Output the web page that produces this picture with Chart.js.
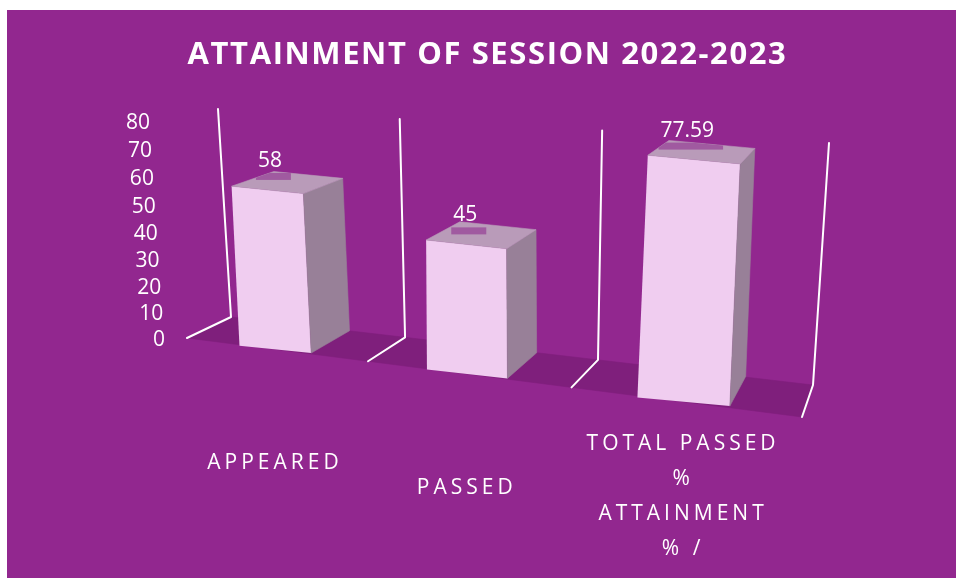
<!DOCTYPE html>
<html>
<head>
<meta charset="utf-8">
<script src="https://cdn.jsdelivr.net/npm/chart.js@4.4.1/dist/chart.umd.min.js"></script>
<style>
  html, body { margin: 0; padding: 0; background: #ffffff; }
  #wrap { position: absolute; left: 0; top: 0; width: 956px; height: 578px; }
</style>
</head>
<body>
<div id="wrap"><canvas id="chart"></canvas></div>
<script>
// ---------------- data ----------------
const categories = [['APPEARED'], ['PASSED'], ['TOTAL PASSED', '%', 'ATTAINMENT', '% /']];
const values = [58, 45, 77.59];
const valueLabels = ['58', '45', '77.59'];
const yMin = 0, yMax = 80, yStep = 10;
const titleText = 'ATTAINMENT OF SESSION 2022-2023';

// ---------------- style / layout ----------------
const COL = {
  page: '#ffffff', bg: '#92278F', floor: '#7F1F7C', front: '#F0CDF0',
  side: '#988098', top: '#B99BB9', patch: '#A05AA0', text: '#ffffff', wall: '#ffffff'
};
const FONT = '"Open Sans", "DejaVu Sans", sans-serif';
// perspective planes: corners for (s,t) = (0,0),(1,0),(1,1),(0,1)
const FRONT_QUAD = [[187, 338], [802, 417], [820, 159], [172, 121]];
const BACK_QUAD  = [[231, 317], [813, 385], [829, 143], [218, 109]];
const BAR_DEPTH = 0.97;
const Y_LABEL_GAP = 22, Y_LABEL_DY = 2;
const X_LABEL_DROP = 114, X_LABEL_MAX_BOTTOM = 567;

function squareToQuad(q) {
  const [x0, y0] = q[0], [x1, y1] = q[1], [x2, y2] = q[2], [x3, y3] = q[3];
  const sx = x0 - x1 + x2 - x3, sy = y0 - y1 + y2 - y3;
  const dx1 = x1 - x2, dx2 = x3 - x2, dy1 = y1 - y2, dy2 = y3 - y2;
  const den = dx1 * dy2 - dx2 * dy1;
  const g = (sx * dy2 - dx2 * sy) / den, h = (dx1 * sy - sx * dy1) / den;
  const a = x1 - x0 + g * x1, b = x3 - x0 + h * x3, c = x0;
  const d = y1 - y0 + g * y1, e = y3 - y0 + h * y3, f = y0;
  return (s, t) => { const w = g * s + h * t + 1; return [(a * s + b * t + c) / w, (d * s + e * t + f) / w]; };
}
const Hf = squareToQuad(FRONT_QUAD);
const Hb = squareToQuad(BACK_QUAD);

function toST(chart, px, py) {
  const xs = chart.scales.x, ys = chart.scales.y;
  return [(px - xs.left) / xs.width, (ys.getValueForPixel(py) - ys.min) / (ys.max - ys.min)];
}

function barGeom(chart, el) {
  const { x, y, base, width } = el.getProps(['x', 'y', 'base', 'width'], true);
  const L = x - width / 2, R = x + width / 2;
  const sBL = toST(chart, L, base), sBR = toST(chart, R, base), sTR = toST(chart, R, y), sTL = toST(chart, L, y);
  const BL = Hf(...sBL), BR = Hf(...sBR), TR = Hf(...sTR), TL = Hf(...sTL);
  const w = R - L, hh = (y - base) || -1;
  const ex = [((BR[0] - BL[0]) + (TR[0] - TL[0])) / 2 / w, ((BR[1] - BL[1]) + (TR[1] - TL[1])) / 2 / w];
  const ey = [((TL[0] - BL[0]) + (TR[0] - BR[0])) / 2 / hh, ((TL[1] - BL[1]) + (TR[1] - BR[1])) / 2 / hh];
  const C = [(BL[0] + BR[0] + TR[0] + TL[0]) / 4, (BL[1] + BR[1] + TR[1] + TL[1]) / 4];
  const cx = x, cy = (y + base) / 2;
  const m = [ex[0], ex[1], ey[0], ey[1], C[0] - ex[0] * cx - ey[0] * cy, C[1] - ex[1] * cx - ey[1] * cy];
  const A = (px, py) => [m[0] * px + m[2] * py + m[4], m[1] * px + m[3] * py + m[5]];
  const deep = (sv, pt) => { const f = Hf(...sv), b = Hb(...sv); return [pt[0] + BAR_DEPTH * (b[0] - f[0]), pt[1] + BAR_DEPTH * (b[1] - f[1])]; };
  const fBL = A(L, base), fBR = A(R, base), fTR = A(R, y), fTL = A(L, y);
  return { m, fBL, fBR, fTR, fTL, bBR: deep(sBR, fBR), bTR: deep(sTR, fTR), bTL: deep(sTL, fTL) };
}

function poly(ctx, pts, fill) {
  ctx.beginPath();
  pts.forEach((p, i) => i ? ctx.lineTo(p[0], p[1]) : ctx.moveTo(p[0], p[1]));
  ctx.closePath();
  ctx.fillStyle = fill; ctx.fill();
  ctx.strokeStyle = fill; ctx.lineWidth = 0.6; ctx.stroke();
}

function wrapScale(scale, adjust, spacing) {
  if (!scale || scale._p3d) return;
  scale._p3d = true;
  const origCompute = scale._computeLabelItems;
  scale._computeLabelItems = function (ca) {
    const items = origCompute.call(this, ca);
    items.forEach(adjust);
    return items;
  };
  const origDraw = scale.drawLabels;
  scale.drawLabels = function (ca) {
    const ctx = this.ctx; ctx.save(); ctx.letterSpacing = spacing; origDraw.call(this, ca); ctx.restore();
  };
}

const perspective3d = {
  id: 'perspective3d',
  beforeDraw(chart) {
    const ctx = chart.ctx;
    ctx.save();
    ctx.fillStyle = COL.page; ctx.fillRect(0, 0, chart.width, chart.height);
    ctx.fillStyle = COL.bg; ctx.fillRect(7, 10, chart.width - 7, chart.height - 10);
    ctx.restore();
  },
  afterLayout(chart) {
    const xs = chart.scales.x, ys = chart.scales.y;
    wrapScale(ys, (it) => {
      const tr = it.options.translation;
      const t = (ys.getValueForPixel(tr[1]) - ys.min) / (ys.max - ys.min);
      const p = Hf(0, t);
      it.options.translation = [p[0] - Y_LABEL_GAP, p[1] + Y_LABEL_DY];
    }, '0px');
    wrapScale(xs, (it) => {
      const tr = it.options.translation;
      const n = Array.isArray(it.label) ? it.label.length : 1;
      const lh = it.font.lineHeight;
      const p = Hf((tr[0] - xs.left) / xs.width, 0);
      const yc = Math.min(p[1] + X_LABEL_DROP, X_LABEL_MAX_BOTTOM - n * lh / 2);
      it.options.translation = [p[0], yc - n * lh / 2];
    }, '4px');
    const tb = chart.titleBlock;
    if (tb && !tb._p3d) {
      tb._p3d = true;
      const od = tb.draw;
      tb.draw = function (...args) { const ctx = chart.ctx; ctx.save(); ctx.letterSpacing = '1.6px'; od.apply(this, args); ctx.restore(); };
    }
  },
  beforeDatasetsDraw(chart) {
    const ctx = chart.ctx;
    const n = chart.data.labels.length;
    ctx.save();
    // floor
    poly(ctx, [Hf(0, 0), Hf(1, 0), Hb(1, 0), Hb(0, 0)], COL.floor);
    // wall / floor division lines at category boundaries
    ctx.strokeStyle = COL.wall; ctx.lineWidth = 2; ctx.lineJoin = 'round'; ctx.lineCap = 'round';
    for (let i = 0; i <= n; i++) {
      const s = i / n;
      const a = Hf(s, 0), b = Hb(s, 0), c = Hb(s, 1);
      ctx.beginPath(); ctx.moveTo(a[0], a[1]); ctx.lineTo(b[0], b[1]); ctx.lineTo(c[0], c[1]); ctx.stroke();
    }
    ctx.restore();
    // put the library's own bar rectangles onto the front plane
    chart.getDatasetMeta(0).data.forEach((el) => {
      if (el._p3d) return;
      el._p3d = true;
      const orig = el.draw;
      el.draw = function (c, area) {
        const g = barGeom(chart, this);
        c.save(); c.transform(...g.m); orig.call(this, c, area); c.restore();
      };
    });
  },
  afterDatasetsDraw(chart) {
    const ctx = chart.ctx;
    ctx.save();
    chart.getDatasetMeta(0).data.forEach((el, i) => {
      const g = barGeom(chart, el);
      poly(ctx, [g.fTR, g.fBR, g.bBR, g.bTR], COL.side);
      const topFace = [g.fTL, g.fTR, g.bTR, g.bTL];
      poly(ctx, topFace, COL.top);
      // label
      const ftc = [(g.fTL[0] + g.fTR[0]) / 2, (g.fTL[1] + g.fTR[1]) / 2];
      const fbc = [(g.fBL[0] + g.fBR[0]) / 2, (g.fBL[1] + g.fBR[1]) / 2];
      const lx = (ftc[0] + fbc[0]) / 2 - 1.5, ly = ftc[1] - 29;
      ctx.font = '21px ' + FONT;
      const txt = valueLabels[i];
      const tw = ctx.measureText(txt).width;
      // small darker patch on the top face under the label
      ctx.save();
      ctx.beginPath(); topFace.forEach((p, k) => k ? ctx.lineTo(p[0], p[1]) : ctx.moveTo(p[0], p[1])); ctx.closePath(); ctx.clip();
      ctx.fillStyle = COL.patch;
      ctx.fillRect(lx - tw / 2 - 2, ly + 12, tw + 11, 7);
      ctx.restore();
      ctx.fillStyle = COL.text; ctx.textAlign = 'center'; ctx.textBaseline = 'middle';
      ctx.fillText(txt, lx, ly);
    });
    ctx.restore();
  }
};

Chart.defaults.font.family = FONT;

new Chart(document.getElementById('chart'), {
  type: 'bar',
  data: {
    labels: categories,
    datasets: [{
      data: values,
      backgroundColor: COL.front,
      borderWidth: 0,
      barPercentage: 0.39,
      categoryPercentage: 1.0,
      clip: false
    }]
  },
  options: {
    responsive: true,
    maintainAspectRatio: false,
    animation: false,
    events: [],
    devicePixelRatio: 1,
    layout: { padding: { left: 19, top: 10, right: 0, bottom: 0 } },
    plugins: {
      legend: { display: false },
      tooltip: { enabled: false },
      title: {
        display: true, text: titleText, color: COL.text,
        font: { family: FONT, size: 31, weight: 'bold' },
        padding: { top: 27, bottom: 10 }
      }
    },
    scales: {
      x: {
        grid: { display: false }, border: { display: false },
        afterFit: (s) => { s.height = 165; },
        ticks: { color: COL.text, font: { family: FONT, size: 21, lineHeight: 35 / 21 }, maxRotation: 0, autoSkip: false }
      },
      y: {
        min: yMin, max: yMax,
        grid: { display: false }, border: { display: false },
        afterFit: (s) => { s.width = 175; },
        ticks: { stepSize: yStep, color: COL.text, font: { family: FONT, size: 21 } }
      }
    }
  },
  plugins: [perspective3d]
});
</script>
</body>
</html>
